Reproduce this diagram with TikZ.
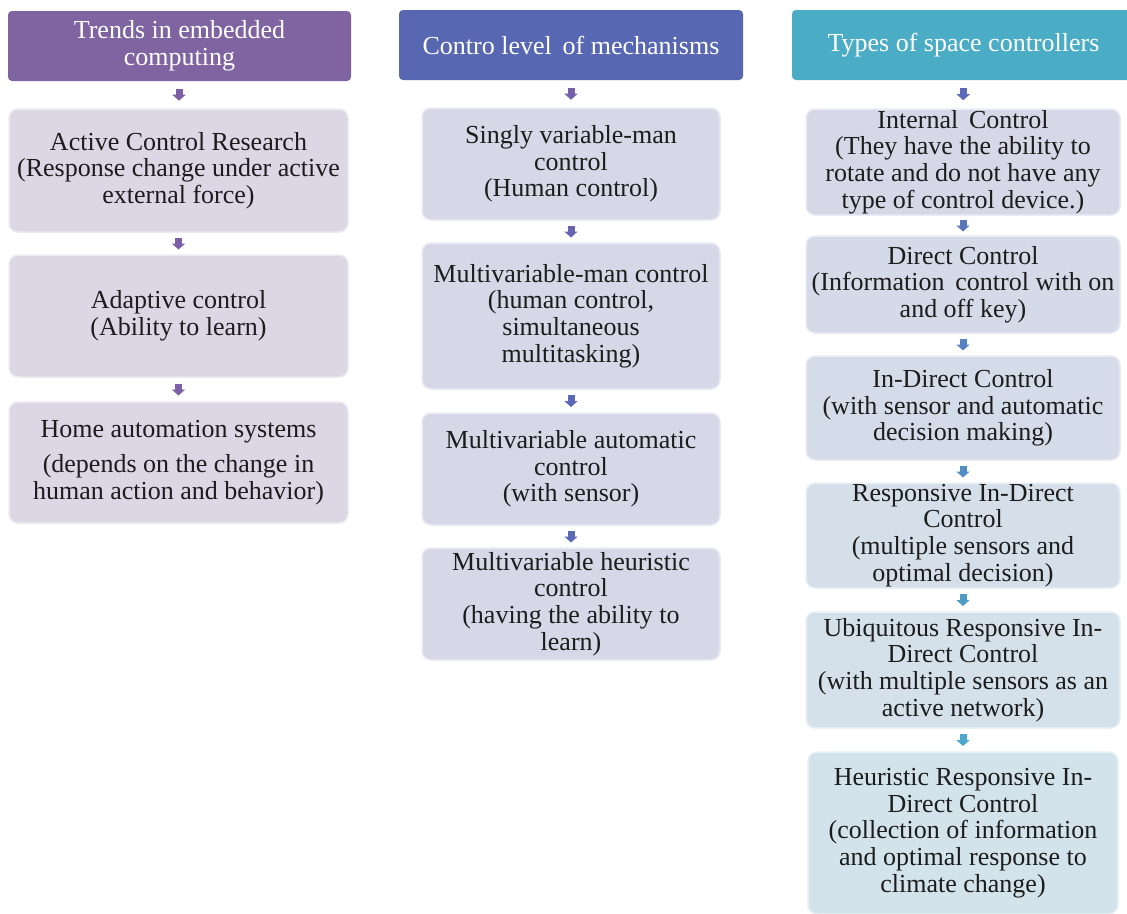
\documentclass[tikz,border=0pt]{standalone}
\usepackage{fontspec}
\setmainfont{LiberationSerif}[Extension=.ttf,UprightFont=*-Regular,BoldFont=*-Bold,ItalicFont=*-Italic,BoldItalicFont=*-BoldItalic]
\usetikzlibrary{arrows.meta,calc}
\definecolor{hpurple}{RGB}{128,100,162}
\definecolor{hblue}{RGB}{88,103,178}
\definecolor{hteal}{RGB}{75,172,198}
\definecolor{fA}{RGB}{220,215,228}
\definecolor{fB}{RGB}{215,215,232}
\definecolor{fC1}{RGB}{214,216,232}
\definecolor{fC6}{RGB}{211,227,235}
\definecolor{aP}{RGB}{125,95,166}
\definecolor{aB}{RGB}{92,104,184}
\definecolor{aT}{RGB}{75,168,204}
\definecolor{txt}{RGB}{28,28,28}
\begin{document}
\begin{tikzpicture}[x=1pt,y=-1pt,
  txtfont/.style={font=\fontsize{26}{26.7}\selectfont},
  head/.style={txtfont, text=white, rounded corners=4pt, align=center, inner sep=0pt, draw=none},
  itembox/.style={txtfont, text=txt, rounded corners=9pt, align=center, inner sep=0pt, line width=1.5pt},
  blk/.style={line width=7pt, -{Triangle[width=13pt,length=6pt]}},
]
\clip (0,0) rectangle (1127,913);
\fill[white] (0,0) rectangle (1127,913);

% Column 1
\node[head, fill=hpurple, minimum width=343, minimum height=70] (h1) at (179.5,46) {Trends in embedded\\computing};
\node[itembox, fill=fA, draw=fA!50!white, minimum width=339, minimum height=123] (a1) at (178.5,170.5) {Active Control Research\\(Response change under active\\external force)};
\node[itembox, fill=fA, draw=fA!50!white, minimum width=339, minimum height=122] (a2) at (178.5,316) {Adaptive control\\(Ability to learn)};
\node[itembox, fill=fA, draw=fA!50!white, minimum width=339, minimum height=121] (a3) at (178.5,462.5) {Home automation systems\\[9pt](depends on the change in\\human action and behavior)};

% Column 2
\node[head, fill=hblue, minimum width=344, minimum height=70] (h2) at (571,45) {Contro level\, of mechanisms};
\node[itembox, fill=fB, draw=fB!50!white, minimum width=298, minimum height=112] (b1) at (571,164) {Singly variable-man\\control\\(Human control)};
\node[itembox, fill=fB, draw=fB!50!white, minimum width=298, minimum height=146] (b2) at (571,316) {Multivariable-man control\\(human control,\\simultaneous\\multitasking)};
\node[itembox, fill=fB, draw=fB!50!white, minimum width=298, minimum height=112] (b3) at (571,469) {Multivariable automatic\\control\\(with sensor)};
\node[itembox, fill=fB, draw=fB!50!white, minimum width=298, minimum height=112] (b4) at (571,604) {Multivariable heuristic\\control\\(having the ability to\\learn)};

% Column 3
\node[head, fill=hteal, minimum width=343, minimum height=70] (h3) at (963.5,45) {Types of space controllers};
\node[itembox, fill=fC1, draw=fC1!50!white, minimum width=314, minimum height=106] (c1) at (963,162) {Internal\, Control\\(They have the ability to\\rotate and do not have any\\type of control device.)};
\node[itembox, fill=fC1!80!fC6, draw=fC1!50!white, minimum width=314, minimum height=97] (c2) at (963,284.5) {Direct Control\\(Information\, control with on\\and off key)};
\node[itembox, fill=fC1!60!fC6, draw=fC1!50!white, minimum width=314, minimum height=104] (c3) at (963,408) {In-Direct Control\\(with sensor and automatic\\decision making)};
\node[itembox, fill=fC1!40!fC6, draw=fC6!50!white, minimum width=314, minimum height=105] (c4) at (963,535.5) {Responsive In-Direct\\Control\\(multiple sensors and\\optimal decision)};
\node[itembox, fill=fC1!20!fC6, draw=fC6!50!white, minimum width=314, minimum height=116] (c5) at (963,670) {Ubiquitous Responsive In-\\Direct Control\\(with multiple sensors as an\\active network)};
\node[itembox, fill=fC6, draw=fC6!50!white, minimum width=310, minimum height=162] (c6) at (963,833) {Heuristic Responsive In-\\Direct Control\\(collection of information\\and optimal response to\\climate change)};

% Arrows
\foreach \u/\v/\c in {h1/a1/aP, a1/a2/aP, a2/a3/aP,
                      h2/b1/aP!70!aB, b1/b2/aP!40!aB, b2/b3/aB, b3/b4/aB,
                      h3/c1/aB, c1/c2/aB!80!aT, c2/c3/aB!60!aT, c3/c4/aB!40!aT, c4/c5/aB!20!aT, c5/c6/aT}{
  \draw[blk, draw=\c, fill=\c] ($(\u.south)!.5!(\v.north)+(0,-6)$) -- ($(\u.south)!.5!(\v.north)+(0,6)$);
}
\end{tikzpicture}
\end{document}
